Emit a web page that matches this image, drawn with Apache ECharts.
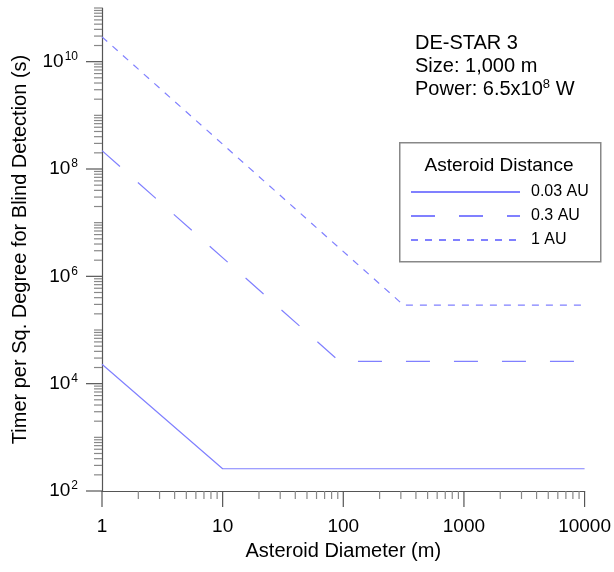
<!DOCTYPE html>
<html>
<head>
<meta charset="utf-8">
<script src="https://cdn.jsdelivr.net/npm/echarts@6/dist/echarts.min.js"></script>
<style>html,body{margin:0;padding:0;background:#fff}#c{width:614px;height:572px}</style>
</head>
<body>
<div id="c"></div>
<script>
// ---- data ----
var seriesNames = ['0.03 AU', '0.3 AU', '1 AU'];
var diam003 = [1, 10, 10000];
var time003 = [2.3e4, 260, 260];
var diam03 = [1, 93, 10000];
var time03 = [2.2e8, 2.6e4, 2.6e4];
var diam1 = [1, 316, 10000];
var time1 = [2.9e10, 2.9e5, 2.9e5];
var xTickLabels = ['1', '10', '100', '1000', '10000'];
var xMajorTicks = [1, 10, 100, 1000, 10000];
var yMajorTicks = [1e2, 1e4, 1e6, 1e8, 1e10];
var infoLines = ['DE-STAR 3', 'Size: 1,000 m'];
var legendTitle = 'Asteroid Distance';

var FONT = 'Liberation Sans, Arial, Helvetica, sans-serif';
var LINE_COLOR = '#8080ff';

function pairs(xs, ys) { return xs.map(function (x, i) { return [x, ys[i]]; }); }

// minor tick positions (2..9 x decade) and intermediate decades
var xMinorTicks = [];
for (var k = 0; k < 4; k++) for (var m = 2; m <= 9; m++) xMinorTicks.push(m * Math.pow(10, k));
var yMinorTicks = [];
for (var k2 = 2; k2 < 11; k2++) {
  for (var m2 = 2; m2 <= 9; m2++) yMinorTicks.push(m2 * Math.pow(10, k2));
  if (k2 % 2 === 1) yMinorTicks.push(Math.pow(10, k2));
}
yMinorTicks.push(1e11);

var tickData = [];
xMajorTicks.forEach(function (v) { tickData.push([v, 100, 0, 16]); });
xMinorTicks.forEach(function (v) { tickData.push([v, 100, 0, 8]); });
yMajorTicks.forEach(function (v) { tickData.push([1, v, 1, 16]); });
yMinorTicks.forEach(function (v) { tickData.push([1, v, 1, 8]); });

var chart = echarts.init(document.getElementById('c'), null, { renderer: 'canvas' });
chart.setOption({
  animation: false,
  backgroundColor: '#fff',
  textStyle: { fontFamily: FONT },
  grid: { left: 102, right: 28, top: 8, bottom: 81, containLabel: false },
  xAxis: {
    type: 'log', logBase: 10, min: 1, max: 10000, splitNumber: 10,
    name: 'Asteroid Diameter (m)', nameLocation: 'middle', nameGap: 50,
    nameTextStyle: { fontSize: 20, color: '#000', fontFamily: FONT },
    axisLine: { show: true, lineStyle: { color: '#555', width: 1.2 } },
    axisTick: { show: false }, splitLine: { show: false },
    axisLabel: {
      fontSize: 19, color: '#000', margin: 26, fontFamily: FONT,
      showMinLabel: true, showMaxLabel: true, hideOverlap: false,
      formatter: function (v) {
        var e = Math.round(Math.log10(v));
        return xTickLabels[e] !== undefined ? xTickLabels[e] : '';
      }
    }
  },
  yAxis: {
    type: 'log', logBase: 10, min: 1e2, max: 1e11, splitNumber: 10,
    name: 'Timer per Sq. Degree for Blind Detection (s)', nameLocation: 'middle', nameGap: 72,
    nameTextStyle: { fontSize: 20, color: '#000', fontFamily: FONT },
    axisLine: { show: true, lineStyle: { color: '#555', width: 1.2 } },
    axisTick: { show: false }, splitLine: { show: false },
    axisLabel: {
      margin: 24, color: '#000', fontFamily: FONT,
      showMinLabel: true, showMaxLabel: true, hideOverlap: false,
      formatter: function (v) {
        var e = Math.round(Math.log10(v));
        if (e % 2 !== 0) return '';
        return '{b|10}{s|' + e + '}';
      },
      rich: {
        b: { fontSize: 19, color: '#000', fontFamily: FONT },
        s: { fontSize: 12, color: '#000', fontFamily: FONT, padding: [0, 0, 10, 1] }
      }
    }
  },
  legend: {
    data: seriesNames, orient: 'vertical', left: 410, top: 184,
    itemWidth: 109, itemHeight: 14, itemGap: 8, padding: 0,
    selectedMode: false,
    itemStyle: { opacity: 0 },
    textStyle: { fontSize: 16, color: '#000', fontFamily: FONT, padding: [0, 0, 0, 6] }
  },
  graphic: [
    { type: 'rect', left: 399, top: 142, z: 0, silent: true,
      shape: { width: 201, height: 119 },
      style: { fill: '#fff', stroke: '#888', lineWidth: 1.5 } },
    { type: 'text', x: 499, y: 166, z: 10, silent: true,
      style: { text: legendTitle, fontSize: 19, fontFamily: FONT, fill: '#000', align: 'center', verticalAlign: 'middle' } },
    { type: 'text', x: 415, y: 43, z: 10, silent: true,
      style: { text: infoLines[0], fontSize: 20, fontFamily: FONT, fill: '#000', align: 'left', verticalAlign: 'middle' } },
    { type: 'text', x: 415, y: 66, z: 10, silent: true,
      style: { text: infoLines[1], fontSize: 20, fontFamily: FONT, fill: '#000', align: 'left', verticalAlign: 'middle' } },
    { type: 'text', x: 415, y: 89, z: 10, silent: true,
      style: { text: '{n|Power: 6.5x10}{s|8}{n| W}', fill: '#000', align: 'left', verticalAlign: 'middle',
        rich: { n: { fontSize: 20, fontFamily: FONT, fill: '#000' },
                s: { fontSize: 13, fontFamily: FONT, fill: '#000', padding: [0, 0, 9, 0] } } } }
  ],
  series: [
    { name: seriesNames[0], type: 'line', data: pairs(diam003, time003), symbol: 'none', silent: true,
      lineStyle: { color: LINE_COLOR, width: 1.2, type: 'solid' }, itemStyle: { color: LINE_COLOR } },
    { name: seriesNames[1], type: 'line', data: pairs(diam03, time03), symbol: 'none', silent: true,
      lineStyle: { color: LINE_COLOR, width: 1.2, type: [24, 24] }, itemStyle: { color: LINE_COLOR } },
    { name: seriesNames[2], type: 'line', data: pairs(diam1, time1), symbol: 'none', silent: true,
      lineStyle: { color: LINE_COLOR, width: 1.2, type: [7, 7] }, itemStyle: { color: LINE_COLOR } },
    { name: 'ticks', type: 'custom', silent: true, clip: false, data: tickData,
      renderItem: function (params, api) {
        var p = api.coord([api.value(0), api.value(1)]);
        var isY = api.value(2) === 1, len = api.value(3);
        var shape = isY ? { x1: p[0] - len, y1: p[1], x2: p[0], y2: p[1] }
                        : { x1: p[0], y1: p[1], x2: p[0], y2: p[1] + len };
        return { type: 'line', shape: shape, style: { stroke: len > 10 ? '#555' : '#888', lineWidth: 1.2 } };
      } }
  ]
});
</script>
</body>
</html>
